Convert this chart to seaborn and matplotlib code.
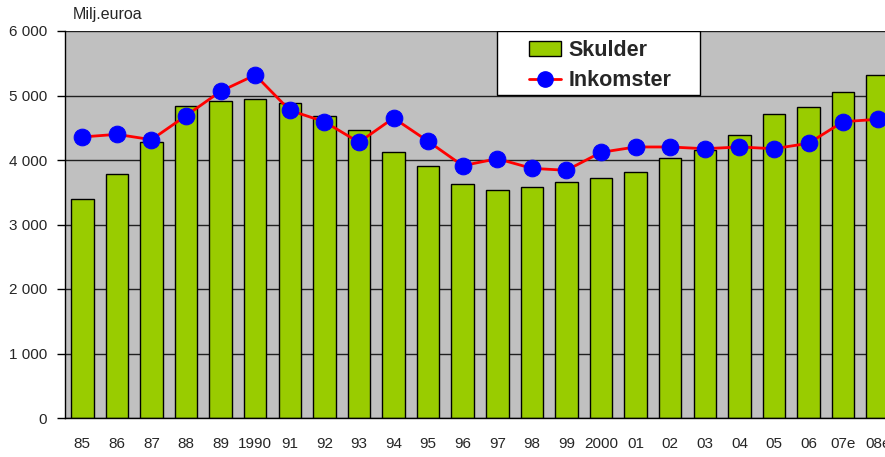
import numpy as np
import pandas as pd
import seaborn as sns
import matplotlib.pyplot as plt
from matplotlib.patches import Patch, Rectangle
from matplotlib.lines import Line2D
from matplotlib.ticker import FuncFormatter, MultipleLocator

# data (milj. euroa)
vuodet = ['85', '86', '87', '88', '89', '1990', '91', '92', '93', '94', '95', '96',
          '97', '98', '99', '2000', '01', '02', '03', '04', '05', '06', '07e', '08e']
skulder = [3390, 3778, 4279, 4837, 4920, 4946, 4879, 4687, 4460, 4129, 3902, 3623,
           3530, 3581, 3659, 3721, 3809, 4026, 4160, 4392, 4713, 4826, 5059, 5313]
inkomster = [4357, 4398, 4315, 4687, 5065, 5318, 4770, 4594, 4274, 4651, 4290, 3912,
             4020, 3871, 3840, 4119, 4202, 4202, 4175, 4202, 4175, 4259, 4594, 4631]

df = pd.DataFrame({'vuosi': vuodet, 'Skulder': skulder, 'Inkomster': inkomster})

sns.set_style('white')
plt.rcParams['font.family'] = ['Liberation Sans', 'DejaVu Sans']

fig = plt.figure(figsize=(8.85, 4.57), dpi=100)
# plot area runs past the right edge of the picture, like in the original
ax = fig.add_axes([65 / 885, 39 / 457, 830 / 885, 387 / 457])
ax.set_facecolor('#c0c0c0')

sns.barplot(data=df, x='vuosi', y='Skulder', color='#99cc00', saturation=1,
            width=0.65, edgecolor='black', linewidth=1, ax=ax, zorder=3)
sns.lineplot(x=np.arange(len(vuodet)), y=df['Inkomster'], color='red', linewidth=2,
             marker='o', markersize=12, markerfacecolor='blue', markeredgecolor='blue',
             ax=ax, zorder=4)

ax.set_ylim(0, 6000)
ax.set_xlim(-0.5, len(vuodet) - 0.5)
ax.yaxis.set_major_locator(MultipleLocator(1000))
ax.yaxis.set_major_formatter(FuncFormatter(lambda v, p: f'{int(v):,}'.replace(',', ' ')))
ax.grid(axis='y', color='#202020', linewidth=1, zorder=1)
ax.set_axisbelow(True)

ax.set_xticks(np.arange(len(vuodet)))
ax.set_xticklabels(vuodet)
ax.set_xticks(np.arange(len(vuodet)) - 0.5, minor=True)
ax.tick_params(axis='x', which='major', length=0, pad=14, labelsize=11)
ax.tick_params(axis='x', which='minor', length=6, width=1, direction='out', color='black')
ax.tick_params(axis='y', length=6, width=1, direction='out', pad=7, labelsize=11,
               color='black', left=True)
ax.set_xlabel('')
ax.set_ylabel('')

for s in ['top', 'right']:
    ax.spines[s].set_visible(False)
for s in ['left', 'bottom']:
    ax.spines[s].set_color('black')
    ax.spines[s].set_linewidth(1)
    ax.spines[s].set_zorder(5)

fig.text(73 / 885, 1 - 15 / 457, 'Milj.euroa', fontsize=11.5, va='center', ha='left')

# legend box
ax.add_patch(Rectangle((0.52, 0.835), 0.245, 0.165, transform=ax.transAxes,
                       facecolor='white', edgecolor='black', linewidth=1, zorder=6))
handles = [Patch(facecolor='#99cc00', edgecolor='black', linewidth=1),
           Line2D([0], [0], color='red', linewidth=2, marker='o', markersize=11,
                  markerfacecolor='blue', markeredgecolor='blue')]
leg = ax.legend(handles, ['Skulder', 'Inkomster'], loc='upper left',
                bbox_to_anchor=(0.559, 0.977), borderaxespad=0, borderpad=0,
                frameon=False, prop={'weight': 'bold', 'size': 15.5},
                handlelength=1.5, handletextpad=0.35, labelspacing=0.44)
leg.set_zorder(7)

fig.savefig('out.png', dpi=100)
